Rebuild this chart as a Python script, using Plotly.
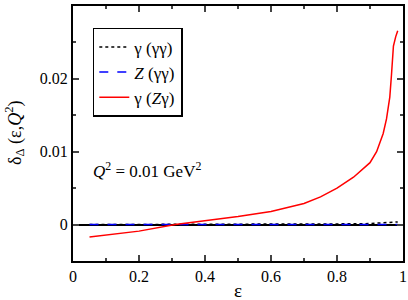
import plotly.graph_objects as go

eps = [0.05, 0.1, 0.2, 0.31, 0.4, 0.5, 0.6, 0.7, 0.75, 0.8, 0.85, 0.9, 0.92, 0.94, 0.95, 0.96, 0.965, 0.971, 0.978, 0.984]
gamma_gg = [0.0, 0.0, 0.0, 0.0, 0.0, 0.00001, 0.00002, 0.00004, 0.00005, 0.00007, 0.0001, 0.00014, 0.00017, 0.00021, 0.00024, 0.00028, 0.0003, 0.00032, 0.00034, 0.00036]
z_gg = [0.0, 0.0, 0.0, 0.0, 0.0, 0.0, 0.0, 0.0, 0.0, 0.0, 0.0, 0.0, 0.0, 0.0, 0.0, 0.0, 0.0, 0.0, 0.0, 0.0]
gamma_zg = [-0.0017, -0.0014, -0.0009, 0.0, 0.0005, 0.0011, 0.0018, 0.0029, 0.0038, 0.0050, 0.0065, 0.0085, 0.0100, 0.0125, 0.0145, 0.0175, 0.0205, 0.0245, 0.0258, 0.0266]

xticks = [0, 0.2, 0.4, 0.6, 0.8, 1]
xticklabels = ["0", "0.2", "0.4", "0.6", "0.8", "1"]
yticks = [0, 0.01, 0.02, 0.03]
yticklabels = ["0", "0.01", "0.02", "0.03"]

font = "Liberation Serif"

fig = go.Figure()
fig.add_trace(go.Scatter(x=eps, y=gamma_gg, mode="lines", name="γ (γγ)",
                         line=dict(color="black", dash="dot", width=1.5)))
fig.add_trace(go.Scatter(x=eps, y=z_gg, mode="lines", name="<i>Z</i> (γγ)",
                         line=dict(color="blue", dash="dash", width=1.5)))
fig.add_trace(go.Scatter(x=eps, y=gamma_zg, mode="lines", name="γ (<i>Z</i>γ)",
                         line=dict(color="red", width=1.5)))

fig.update_layout(
    width=408, height=300,
    margin=dict(l=73, r=5, t=6, b=39, autoexpand=False),
    paper_bgcolor="white", plot_bgcolor="white",
    font=dict(family=font, size=16, color="black"),
    showlegend=True,
    legend=dict(x=0.06, y=0.914, xanchor="left", yanchor="top",
                bordercolor="black", borderwidth=1.5, bgcolor="white",
                font=dict(family=font, size=17), tracegroupgap=4,
                itemwidth=30),
    xaxis=dict(range=[0, 1], tickvals=xticks, ticktext=xticklabels,
               ticks="inside", ticklen=6, tickwidth=1.5, mirror="ticks",
               showline=True, linewidth=2, linecolor="black",
               showgrid=False, zeroline=False, automargin=False,
               tickfont=dict(family=font, size=16),
               minor=dict(dtick=0.1, ticks="inside", ticklen=3, tickwidth=1.5)),
    yaxis=dict(range=[-0.005, 0.03], tickvals=yticks, ticktext=yticklabels,
               ticks="inside", ticklen=6, tickwidth=1.5, mirror="ticks",
               showline=True, linewidth=2, linecolor="black", automargin=False,
               tickfont=dict(family=font, size=16),
               showgrid=False, zeroline=True, zerolinecolor="black", zerolinewidth=1.5,
               minor=dict(dtick=0.005, ticks="inside", ticklen=3, tickwidth=1.5)),
)

fig.add_annotation(x=0.5, y=0, xref="paper", yref="paper", yshift=-17, xanchor="center", yanchor="top",
                   text="ε", showarrow=False, font=dict(family=font, size=19, color="black"))
fig.add_annotation(x=0, y=0.5, xref="paper", yref="paper", xshift=-44, xanchor="right", yanchor="middle",
                   text="δ<sub>Δ</sub> (ε,<i>Q</i><sup>2</sup>)", textangle=-90, showarrow=False,
                   font=dict(family=font, size=18, color="black"))
fig.add_annotation(x=0.055, y=0.0075, xref="x", yref="y", xanchor="left", yanchor="middle",
                   text="<i>Q</i><sup>2</sup> = 0.01 GeV<sup>2</sup>", showarrow=False,
                   font=dict(family=font, size=17, color="black"))

fig.write_html("out.html", config={"displayModeBar": False},
               post_script="document.body.style.margin='0';document.body.style.overflow='hidden';")
